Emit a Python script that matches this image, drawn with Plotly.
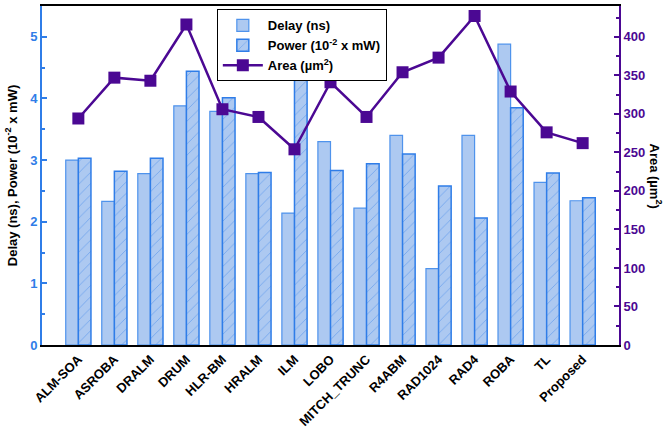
import plotly.graph_objects as go

# Multiplier designs compared
designs = ["ALM-SOA", "ASROBA", "DRALM", "DRUM", "HLR-BM", "HRALM", "ILM", "LOBO",
           "MITCH_TRUNC", "R4ABM", "RAD1024", "RAD4", "ROBA", "TL", "Proposed"]

# Delay in ns
delay_ns = [3.00, 2.33, 2.78, 3.88, 3.79, 2.78, 2.14, 3.30, 2.22, 3.40, 1.24, 3.40, 4.88, 2.64, 2.34]

# Power in 10^-2 x mW
power = [3.03, 2.82, 3.03, 4.44, 4.01, 2.80, 4.36, 2.83, 2.94, 3.10, 2.58, 2.06, 3.85, 2.79, 2.39]

# Area in um^2
area_um2 = [294, 347, 343, 416, 306, 296, 254, 341, 296, 354, 373, 427, 329, 276, 262]

BLUE = "#2f7de8"
FILL = "#adc9f1"
PURPLE = "#4b0893"
FONT = "Liberation Sans, Arial, sans-serif"

fig = go.Figure()

fig.add_trace(go.Bar(
    x=designs, y=delay_ns, name="<b>Delay (ns)</b>",
    marker=dict(color=FILL, line=dict(color="#4f93ec", width=1.2)),
    yaxis="y",
))
fig.add_trace(go.Bar(
    x=designs, y=power, name="<b>Power (10<sup>-2</sup> x mW)</b>",
    marker=dict(color=FILL, line=dict(color=BLUE, width=1.5),
                pattern=dict(shape="/", fgcolor=BLUE, bgcolor=FILL, size=8, solidity=0.1)),
    yaxis="y",
))
fig.add_trace(go.Scatter(
    x=designs, y=area_um2, name="<b>Area (µm<sup>2</sup>)</b>",
    mode="lines+markers",
    line=dict(color=PURPLE, width=2.5),
    marker=dict(symbol="square", size=12, color=PURPLE),
    yaxis="y2",
))

fig.update_layout(
    width=664, height=433,
    margin=dict(l=42, r=45, t=4, b=87),
    plot_bgcolor="white", paper_bgcolor="white",
    font=dict(family=FONT, color="black"),
    barmode="group", bargap=0.3, bargroupgap=0,
    showlegend=True,
    legend=dict(
        x=0.303, y=0.99, xanchor="left", yanchor="top",
        bordercolor="black", borderwidth=1, bgcolor="white",
        font=dict(family=FONT, size=13, color="black"),
        tracegroupgap=0, itemwidth=40,
    ),
    xaxis=dict(
        tickangle=-45, tickfont=dict(family=FONT, size=13, color="black"),
        showline=True, linecolor="black", linewidth=1.5, mirror=True,
        ticks="", showgrid=False,
        tickprefix="<b>", ticksuffix="</b>",
    ),
    yaxis=dict(
        range=[0, 5.5], dtick=1, tick0=0,
        showline=True, linecolor=BLUE, linewidth=2,
        ticks="inside", ticklen=5, tickwidth=2, tickcolor=BLUE,
        minor=dict(dtick=0.5, ticks="inside", ticklen=3, tickwidth=1.5, tickcolor=BLUE),
        tickfont=dict(family=FONT, size=13, color=BLUE),
        tickprefix="<b>", ticksuffix="</b>",
        showgrid=False, zeroline=False,
        title=dict(text="<b>Delay (ns), Power (10<sup>-2</sup> x mW)</b>",
                   font=dict(family=FONT, size=13, color="black"), standoff=10),
    ),
    yaxis2=dict(
        range=[0, 440], dtick=50, tick0=0,
        overlaying="y", side="right",
        showline=True, linecolor=PURPLE, linewidth=2,
        ticks="inside", ticklen=5, tickwidth=2, tickcolor=PURPLE,
        minor=dict(dtick=25, ticks="inside", ticklen=3, tickwidth=1.5, tickcolor=PURPLE),
        tickfont=dict(family=FONT, size=13, color=PURPLE),
        tickprefix="<b>", ticksuffix="</b>",
        showgrid=False, zeroline=False,
    ),
    annotations=[dict(
        text="<b>Area (µm<sup>2</sup>)</b>", textangle=90,
        xref="paper", yref="paper", x=1.0, y=0.5, xshift=37,
        xanchor="center", yanchor="middle", showarrow=False,
        font=dict(family=FONT, size=13, color="black"),
    )],
)

fig.write_html("out.html")
